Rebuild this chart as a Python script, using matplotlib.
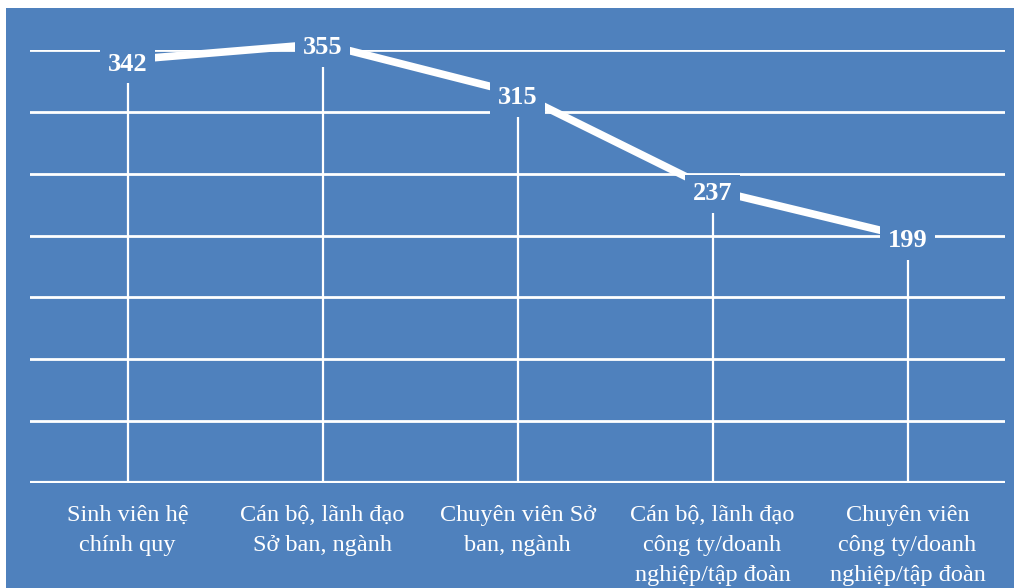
import matplotlib.pyplot as plt
from matplotlib.patches import Rectangle

categories = ["Sinh viên hệ\nchính quy",
              "Cán bộ, lãnh đạo\nSở ban, ngành",
              "Chuyên viên Sở\nban, ngành",
              "Cán bộ, lãnh đạo\ncông ty/doanh\nnghiệp/tập đoàn",
              "Chuyên viên\ncông ty/doanh\nnghiệp/tập đoàn"]
values = [342, 355, 315, 237, 199]
y_ticks = [0, 50, 100, 150, 200, 250, 300, 350]

BLUE = "#4f81bd"

fig = plt.figure(figsize=(10.14, 5.88), dpi=100, facecolor="white")
# blue chart area (white strip on top and left like the screenshot)
fig.add_artist(Rectangle((6 / 1014, 0), 1, 580 / 588, transform=fig.transFigure,
                         facecolor=BLUE, edgecolor="none", zorder=-10))

ax = fig.add_axes([30 / 1014, 105 / 588, 975 / 1014, 433 / 588])
ax.set_facecolor("none")
x = list(range(len(values)))

for yv in y_ticks[1:]:
    ax.axhline(yv, color="white", lw=2, zorder=1)
ax.axhline(0, color="white", lw=3, zorder=1)

# drop lines
ax.vlines(x, 0, values, color="white", lw=1.6, zorder=2, clip_on=False)

ax.plot(x, values, color="white", lw=5.5, solid_capstyle="butt", zorder=3, clip_on=False)

for xi, v in zip(x, values):
    ax.annotate(str(v), (xi, v), xytext=(0, -3), textcoords="offset points",
                ha="center", va="center", color="white", annotation_clip=False,
                fontsize=19, fontweight="bold", family="Liberation Serif", zorder=5,
                bbox=dict(boxstyle="square,pad=0.3", fc=BLUE, ec="none"))

ax.set_xlim(-0.5, 4.5)
ax.set_ylim(0, 350)
ax.set_yticks([])
ax.set_xticks(x)
ax.set_xticklabels(categories, color="white", fontsize=17.5, family="Liberation Serif",
                   linespacing=1.55, va="top")
ax.tick_params(axis="x", length=0, pad=16)
for s in ax.spines.values():
    s.set_visible(False)

fig.savefig("out.png", dpi=100, facecolor="white")
